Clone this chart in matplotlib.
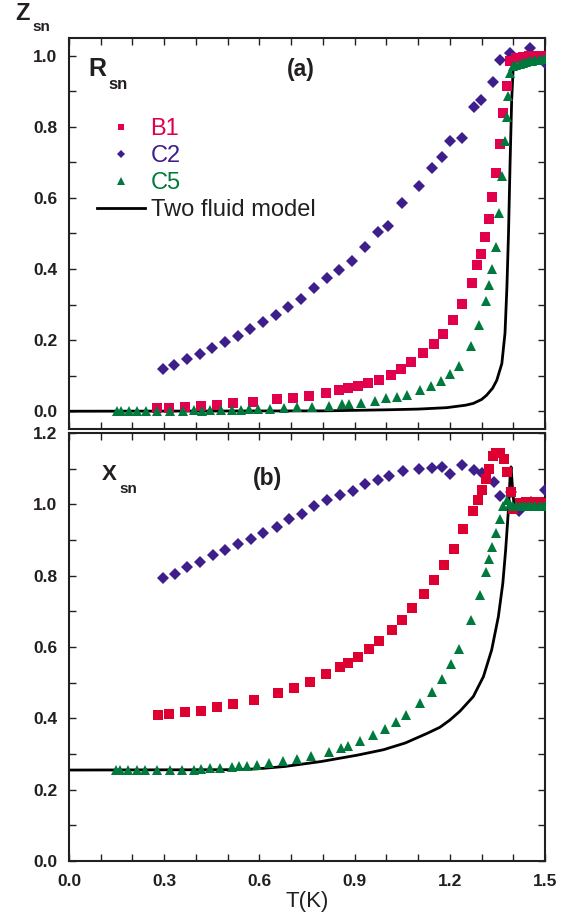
import matplotlib
matplotlib.use("Agg")
import matplotlib.pyplot as plt
from matplotlib.ticker import MultipleLocator, FormatStrFormatter

# ---------------- data ----------------
# (a) R_sn
b1_T_a = [0.278, 0.316, 0.366, 0.416, 0.466, 0.517, 0.581, 0.657, 0.707, 0.757, 0.809, 0.852,
          0.880, 0.911, 0.943, 0.977, 1.016, 1.047, 1.079, 1.117, 1.149, 1.180, 1.210, 1.240,
          1.270, 1.287, 1.299, 1.311, 1.324, 1.334, 1.346, 1.358, 1.369, 1.379, 1.390, 1.41,
          1.43, 1.45, 1.47, 1.49]
b1_R = [0.008, 0.009, 0.011, 0.015, 0.017, 0.022, 0.026, 0.033, 0.038, 0.044, 0.051, 0.059,
        0.065, 0.070, 0.080, 0.089, 0.103, 0.120, 0.138, 0.164, 0.188, 0.217, 0.256, 0.301,
        0.360, 0.410, 0.442, 0.489, 0.540, 0.602, 0.670, 0.751, 0.839, 0.915, 0.985, 0.995,
        0.997, 0.998, 1.000, 1.000]

c2_T_a = [0.295, 0.332, 0.371, 0.412, 0.452, 0.491, 0.533, 0.571, 0.611, 0.652, 0.691, 0.731,
          0.772, 0.812, 0.852, 0.892, 0.934, 0.973, 1.005, 1.049, 1.102, 1.143, 1.176, 1.200,
          1.239, 1.275, 1.299, 1.335, 1.357, 1.390, 1.453, 1.500]
c2_R = [0.120, 0.131, 0.146, 0.162, 0.178, 0.194, 0.212, 0.232, 0.252, 0.270, 0.292, 0.315,
        0.348, 0.376, 0.397, 0.423, 0.463, 0.505, 0.521, 0.587, 0.634, 0.685, 0.716, 0.761,
        0.770, 0.855, 0.876, 0.925, 0.989, 1.009, 1.021, 0.979]

c5_T_a = [0.150, 0.163, 0.189, 0.215, 0.243, 0.276, 0.318, 0.358, 0.394, 0.418, 0.444, 0.478,
          0.515, 0.541, 0.566, 0.597, 0.634, 0.676, 0.720, 0.767, 0.820, 0.859, 0.881, 0.921,
          0.964, 0.999, 1.034, 1.064, 1.107, 1.142, 1.173, 1.202, 1.229, 1.266, 1.293, 1.313,
          1.324, 1.333, 1.345, 1.354, 1.366, 1.374, 1.379, 1.384, 1.390, 1.40, 1.41, 1.42,
          1.43, 1.44, 1.45, 1.46, 1.47, 1.48, 1.49, 1.50]
c5_R = [0.0, 0.0, 0.0, 0.0, 0.0, 0.002, 0.002, 0.002, 0.003, 0.002, 0.003, 0.004,
        0.003, 0.003, 0.005, 0.005, 0.006, 0.009, 0.012, 0.013, 0.015, 0.020, 0.020, 0.024,
        0.029, 0.036, 0.040, 0.047, 0.059, 0.070, 0.085, 0.104, 0.127, 0.183, 0.242, 0.311,
        0.355, 0.399, 0.463, 0.557, 0.662, 0.759, 0.827, 0.888, 0.951, 0.970, 0.975, 0.978,
        0.980, 0.982, 0.984, 0.985, 0.987, 0.988, 0.990, 0.990]

model_T_a = [0.0, 0.8, 1.0, 1.1, 1.19, 1.25, 1.274, 1.30, 1.316, 1.335, 1.348, 1.364, 1.374,
             1.380, 1.385, 1.390, 1.395, 1.400, 1.405, 1.5]
model_R = [0.0, 0.001, 0.004, 0.006, 0.010, 0.017, 0.022, 0.033, 0.045, 0.065, 0.087, 0.134,
           0.22, 0.35, 0.50, 0.70, 0.876, 0.970, 0.99, 1.0]

# (b) X_sn
b1_T_b = [0.279, 0.316, 0.366, 0.416, 0.466, 0.517, 0.583, 0.658, 0.709, 0.758, 0.809, 0.854,
          0.880, 0.911, 0.945, 0.978, 1.017, 1.048, 1.082, 1.119, 1.151, 1.182, 1.212, 1.243,
          1.274, 1.290, 1.302, 1.313, 1.325, 1.337, 1.346, 1.358, 1.371, 1.381, 1.392, 1.40,
          1.42, 1.44, 1.46, 1.48, 1.50]
b1_X = [0.409, 0.411, 0.417, 0.421, 0.431, 0.439, 0.451, 0.470, 0.486, 0.502, 0.524, 0.543,
        0.554, 0.572, 0.593, 0.617, 0.648, 0.675, 0.708, 0.749, 0.787, 0.830, 0.875, 0.930,
        0.981, 1.013, 1.041, 1.070, 1.100, 1.136, 1.144, 1.144, 1.126, 1.091, 1.035, 0.988,
        1.005, 1.007, 1.006, 1.006, 1.004]

c2_T_b = [0.295, 0.333, 0.372, 0.413, 0.453, 0.492, 0.534, 0.573, 0.612, 0.654, 0.693, 0.735,
          0.773, 0.812, 0.854, 0.894, 0.934, 0.975, 1.008, 1.051, 1.104, 1.144, 1.176, 1.201,
          1.240, 1.277, 1.302, 1.338, 1.358, 1.392, 1.419, 1.455, 1.500]
c2_X = [0.793, 0.805, 0.823, 0.838, 0.857, 0.871, 0.889, 0.904, 0.921, 0.937, 0.958, 0.974,
        0.996, 1.013, 1.027, 1.038, 1.056, 1.068, 1.080, 1.094, 1.098, 1.103, 1.105, 1.085,
        1.111, 1.096, 1.088, 1.063, 1.024, 1.035, 0.981, 1.007, 1.040]

c5_T_b = [0.147, 0.161, 0.187, 0.213, 0.240, 0.276, 0.317, 0.357, 0.394, 0.417, 0.444, 0.477,
          0.513, 0.537, 0.562, 0.594, 0.631, 0.675, 0.718, 0.764, 0.818, 0.858, 0.879, 0.918,
          0.959, 0.997, 1.031, 1.061, 1.105, 1.143, 1.176, 1.204, 1.230, 1.268, 1.295, 1.315,
          1.325, 1.334, 1.347, 1.357, 1.367, 1.379, 1.39, 1.40, 1.41, 1.42, 1.43, 1.44, 1.45,
          1.46, 1.47, 1.48, 1.49, 1.50]
c5_X = [0.256, 0.256, 0.256, 0.256, 0.256, 0.256, 0.256, 0.256, 0.256, 0.257, 0.260, 0.262,
        0.264, 0.266, 0.267, 0.270, 0.275, 0.281, 0.287, 0.295, 0.307, 0.316, 0.323, 0.337,
        0.354, 0.369, 0.389, 0.409, 0.442, 0.473, 0.509, 0.551, 0.594, 0.676, 0.747, 0.811,
        0.848, 0.881, 0.920, 0.960, 0.995, 1.013, 1.000, 0.995, 0.994, 0.994, 0.994, 0.994,
        0.994, 0.994, 0.994, 0.994, 0.994, 0.994]

model_T_b = [0.0, 0.5, 0.588, 0.680, 0.795, 0.910, 0.991, 1.06, 1.129, 1.169, 1.20, 1.232,
             1.274, 1.306, 1.332, 1.353, 1.367, 1.376, 1.384, 1.390, 1.393, 1.398, 1.402,
             1.41, 1.5]
model_X = [0.255, 0.256, 0.258, 0.265, 0.279, 0.297, 0.312, 0.331, 0.358, 0.375, 0.395, 0.420,
           0.461, 0.517, 0.592, 0.685, 0.778, 0.872, 0.975, 1.077, 1.105, 1.040, 1.003,
           1.0, 1.0]

labels = ["B1", "C2", "C5", "Two fluid model"]
x_ticks = [0.0, 0.3, 0.6, 0.9, 1.2, 1.5]

# ---------------- style ----------------
plt.rcParams['font.family'] = ['Liberation Sans', 'DejaVu Sans']
INK = '#231F20'
COL_B1_A = '#E0004E'
COL_B1_B = '#DD0030'
COL_C2 = '#3D1E8A'
COL_C5 = '#007A3C'

W, H = 575, 917
fig = plt.figure(figsize=(W / 100, H / 100), dpi=100)
L, R = 69, 545
ax1 = fig.add_axes([L / W, 1 - 429 / H, (R - L) / W, (429 - 38) / H])
ax2 = fig.add_axes([L / W, 1 - 861 / H, (R - L) / W, (861 - 433) / H])

ms_s, ms_d, ms_t = 6.5, 5.7, 7.0

# panel (a)
hl, = ax1.plot(model_T_a, model_R, color='black', lw=2.0, zorder=2, label=labels[3])
hc2, = ax1.plot(c2_T_a, c2_R, 'D', color=COL_C2, ms=ms_d, mew=0, zorder=3, label=labels[1])
hb1, = ax1.plot(b1_T_a, b1_R, 's', color=COL_B1_A, ms=ms_s, mew=0, zorder=4, label=labels[0])
hc5, = ax1.plot(c5_T_a, c5_R, '^', color=COL_C5, ms=ms_t, mew=0, zorder=5, label=labels[2])

# panel (b)
ax2.plot(model_T_b, model_X, color='black', lw=2.0, zorder=2)
ax2.plot(c2_T_b, c2_X, 'D', color=COL_C2, ms=ms_d, mew=0, zorder=3)
ax2.plot(b1_T_b, b1_X, 's', color=COL_B1_B, ms=ms_s, mew=0, zorder=4)
ax2.plot(c5_T_b, c5_X, '^', color=COL_C5, ms=ms_t, mew=0, zorder=5)

ax1.set_xlim(0, 1.5)
ax1.set_ylim(-0.05, 1.05)
ax2.set_xlim(0, 1.5)
ax2.set_ylim(0, 1.2)

for ax in (ax1, ax2):
    for s in ax.spines.values():
        s.set_linewidth(1.5)
        s.set_color(INK)
    ax.xaxis.set_major_locator(MultipleLocator(0.3))
    ax.xaxis.set_minor_locator(MultipleLocator(0.1))
    ax.yaxis.set_major_locator(MultipleLocator(0.2))
    ax.yaxis.set_minor_locator(MultipleLocator(0.1))
    ax.yaxis.set_major_formatter(FormatStrFormatter('%.1f'))
    ax.tick_params(which='both', direction='in', top=True, right=True,
                   length=5, width=1.0, color=INK, labelcolor=INK)
    ax.tick_params(axis='y', which='major', pad=8.5, labelsize=12.5)
    ax.tick_params(axis='x', which='major', pad=9, labelsize=12.5)
    for lab in ax.get_yticklabels():
        lab.set_fontweight('bold')

ax2.set_xticks(x_ticks)
ax2.xaxis.set_major_formatter(FormatStrFormatter('%.1f'))
for lab in ax2.get_xticklabels():
    lab.set_fontweight('bold')
ax1.tick_params(axis='x', labelbottom=False)
ax2.set_xlabel('T(K)', fontsize=16, color=INK, labelpad=2)

# texts
def px(x, y):
    return x / W, 1 - y / H

fig.text(*px(15, 20), 'Z', fontsize=17, fontweight='bold', color=INK, va='baseline')
fig.text(*px(32, 31), 'sn', fontsize=11, fontweight='bold', color=INK, va='baseline')
fig.text(*px(88, 76), 'R', fontsize=18, fontweight='bold', color=INK, va='baseline')
fig.text(*px(108, 89), 'sn', fontsize=12, fontweight='bold', color=INK, va='baseline')
fig.text(*px(301, 76), '(a)', fontsize=16.5, fontweight='bold', color=INK, va='baseline', ha='center')
fig.text(*px(102, 480), 'X', fontsize=16, fontweight='bold', color=INK, va='baseline')
fig.text(*px(119, 493), 'sn', fontsize=11, fontweight='bold', color=INK, va='baseline')
fig.text(*px(268, 485), '(b)', fontsize=16.5, fontweight='bold', color=INK, va='baseline', ha='center')

leg = ax1.legend(handles=[hb1, hc2, hc5, hl], loc='upper left',
                 bbox_to_anchor=((97 - L) / (R - L), (429 - 118) / (429 - 38)),
                 frameon=False, fontsize=17, markerscale=0.75, handlelength=2.05,
                 handletextpad=0.22, labelspacing=0.21, borderpad=0, borderaxespad=0,
                 numpoints=1,
                 labelcolor=[COL_B1_A, COL_C2, COL_C5, INK])

fig.savefig('out.png', dpi=100)
